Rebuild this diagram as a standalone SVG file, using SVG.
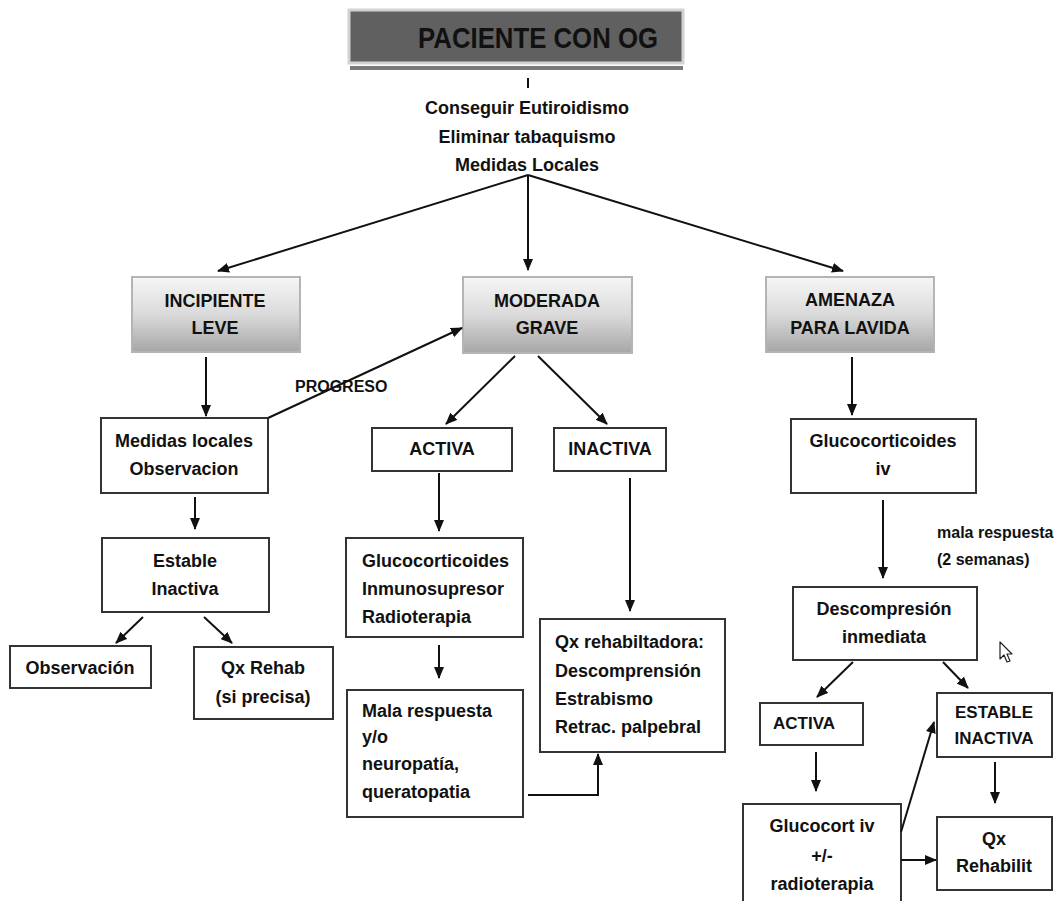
<svg xmlns="http://www.w3.org/2000/svg" width="1058" height="901" viewBox="0 0 1058 901">
<style>
text{font-family:"Liberation Sans",Arial,sans-serif;font-weight:bold;fill:#111;font-size:18px}
.c{text-anchor:middle}
.box{fill:#fff;stroke:#333;stroke-width:2}
.gbox{fill:url(#g);stroke:#b4b4b4;stroke-width:2}
.ln{fill:none;stroke:#111;stroke-width:2}
.ar{fill:none;stroke:#111;stroke-width:2;marker-end:url(#ah)}
.s17{font-size:17px}
.s16{font-size:16px}
</style>
<defs>
<linearGradient id="g" x1="0" y1="0" x2="0" y2="1">
<stop offset="0" stop-color="#f6f6f6"/>
<stop offset="0.5" stop-color="#dadada"/>
<stop offset="1" stop-color="#a6a6a6"/>
</linearGradient>
<marker id="ah" markerWidth="12" markerHeight="10" refX="11" refY="5" orient="auto" markerUnits="userSpaceOnUse">
<path d="M0,0 L12,5 L0,10 Z" fill="#111"/>
</marker>
</defs>
<rect width="1058" height="901" fill="#fff"/>

<g id="title">
<rect x="350" y="66" width="333" height="4" fill="#7a7a7a"/>
<rect x="349" y="10" width="334" height="53" fill="#606060" stroke="#d2d2d2" stroke-width="3"/>
<text x="538" y="48" class="c" style="font-size:30px" textLength="240" lengthAdjust="spacingAndGlyphs">PACIENTE CON OG</text>
</g>

<g id="general">
<text x="527" y="114" class="c">Conseguir Eutiroidismo</text>
<text x="527" y="143" class="c">Eliminar tabaquismo</text>
<text x="527" y="171" class="c">Medidas Locales</text>
</g>

<g id="incipiente">
<rect x="132" y="277" width="168" height="75" class="gbox"/>
<text x="215" y="307" class="c">INCIPIENTE</text>
<text x="215" y="334" class="c">LEVE</text>
</g>
<g id="moderada">
<rect x="463" y="277" width="169" height="76" class="gbox"/>
<text x="547" y="307" class="c">MODERADA</text>
<text x="547" y="334" class="c">GRAVE</text>
</g>
<g id="amenaza">
<rect x="766" y="277" width="168" height="75" class="gbox"/>
<text x="850" y="306" class="c">AMENAZA</text>
<text x="850" y="334" class="c">PARA LAVIDA</text>
</g>

<g id="medidas-locales">
<rect x="101" y="418" width="167" height="75" class="box"/>
<text x="184" y="447" class="c">Medidas locales</text>
<text x="184" y="475" class="c">Observacion</text>
</g>
<g id="estable-inactiva">
<rect x="102" y="538" width="167" height="74" class="box"/>
<text x="185" y="567" class="c">Estable</text>
<text x="185" y="595" class="c">Inactiva</text>
</g>
<g id="observacion">
<rect x="10" y="646" width="141" height="42" class="box"/>
<text x="80" y="674" class="c">Observación</text>
</g>
<g id="qx-rehab">
<rect x="194" y="647" width="139" height="72" class="box"/>
<text x="263" y="674" class="c">Qx Rehab</text>
<text x="263" y="703" class="c">(si precisa)</text>
</g>

<g id="activa">
<rect x="372" y="428" width="140" height="43" class="box"/>
<text x="442" y="455" class="c">ACTIVA</text>
</g>
<g id="inactiva">
<rect x="554" y="428" width="112" height="43" class="box"/>
<text x="610" y="455" class="c">INACTIVA</text>
</g>
<g id="glucocorticoides">
<rect x="346" y="538" width="177" height="99" class="box"/>
<text x="362" y="567">Glucocorticoides</text>
<text x="362" y="595">Inmunosupresor</text>
<text x="362" y="623">Radioterapia</text>
</g>
<g id="mala-respuesta">
<rect x="347" y="690" width="176" height="127" class="box"/>
<text x="362" y="717">Mala respuesta</text>
<text x="362" y="743">y/o</text>
<text x="362" y="770">neuropatía,</text>
<text x="362" y="798">queratopatia</text>
</g>
<g id="qx-rehabilitadora">
<rect x="540" y="619" width="185" height="133" class="box"/>
<text x="555" y="648">Qx rehabiltadora:</text>
<text x="555" y="677">Descomprensión</text>
<text x="555" y="705">Estrabismo</text>
<text x="555" y="733">Retrac. palpebral</text>
</g>

<g id="glucocorticoides-iv">
<rect x="791" y="419" width="185" height="74" class="box"/>
<text x="883" y="447" class="c">Glucocorticoides</text>
<text x="883" y="475" class="c">iv</text>
</g>
<g id="mala-respuesta-label">
<text x="937" y="538" class="s16">mala respuesta</text>
<text x="937" y="565" class="s16">(2 semanas)</text>
</g>
<g id="descompresion">
<rect x="793" y="587" width="184" height="73" class="box"/>
<text x="884" y="615" class="c">Descompresión</text>
<text x="884" y="643" class="c">inmediata</text>
</g>
<g id="activa-2">
<rect x="760" y="703" width="103" height="42" class="box"/>
<text x="804" y="729" class="c s17">ACTIVA</text>
</g>
<g id="estable-inactiva-2">
<rect x="937" y="693" width="115" height="64" class="box"/>
<text x="994" y="718" class="c s17">ESTABLE</text>
<text x="994" y="744" class="c s17">INACTIVA</text>
</g>
<g id="glucocort-iv">
<rect x="743" y="804" width="158" height="110" class="box"/>
<text x="822" y="832" class="c">Glucocort iv</text>
<text x="822" y="862" class="c">+/-</text>
<text x="822" y="890" class="c">radioterapia</text>
</g>
<g id="qx-rehabilit">
<rect x="937" y="817" width="115" height="73" class="box"/>
<text x="994" y="845" class="c">Qx</text>
<text x="994" y="872" class="c">Rehabilit</text>
</g>

<g id="cursor">
<path d="M1000,642 L1000,659 L1004,655 L1007,662 L1010,661 L1007,654 L1012,654 Z" fill="#fff" stroke="#222" stroke-width="1.2" stroke-linejoin="round"/>
</g>

<g id="connectors">
<line x1="528" y1="78" x2="528" y2="88" class="ln"/>
<line x1="528" y1="175" x2="218" y2="271" class="ar"/>
<line x1="528" y1="175" x2="528" y2="270" class="ar"/>
<line x1="528" y1="175" x2="843" y2="271" class="ar"/>
<line x1="206" y1="357" x2="206" y2="416" class="ar"/>
<line x1="268" y1="418" x2="462" y2="328" class="ar"/>
<text x="295" y="392" class="s16">PROGRESO</text>
<line x1="195" y1="497" x2="195" y2="529" class="ar"/>
<line x1="143" y1="617" x2="116" y2="643" class="ar"/>
<line x1="204" y1="617" x2="232" y2="643" class="ar"/>
<line x1="515" y1="356" x2="446" y2="424" class="ar"/>
<line x1="538" y1="356" x2="607" y2="424" class="ar"/>
<line x1="439" y1="473" x2="439" y2="531" class="ar"/>
<line x1="630" y1="478" x2="630" y2="611" class="ar"/>
<line x1="439" y1="645" x2="439" y2="678" class="ar"/>
<polyline points="528,795 598,795 598,754" class="ar"/>
<line x1="852" y1="357" x2="852" y2="415" class="ar"/>
<line x1="883" y1="500" x2="883" y2="578" class="ar"/>
<line x1="853" y1="662" x2="817" y2="697" class="ar"/>
<line x1="943" y1="662" x2="968" y2="688" class="ar"/>
<line x1="816" y1="752" x2="816" y2="791" class="ar"/>
<line x1="901" y1="832" x2="934" y2="722" class="ar"/>
<line x1="901" y1="860" x2="936" y2="860" class="ar"/>
<line x1="995" y1="762" x2="995" y2="803" class="ar"/>
</g>
</svg>
